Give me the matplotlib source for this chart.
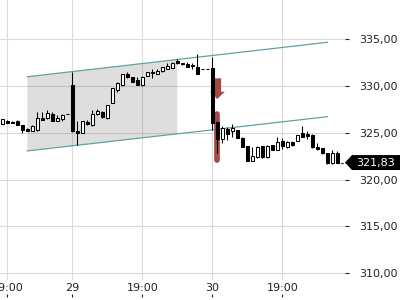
import matplotlib
matplotlib.use("Agg")
import matplotlib.pyplot as plt
from matplotlib.patches import Polygon
from matplotlib.transforms import blended_transform_factory
import numpy as np

opens = [326.0, 326.3, 326.2, 326.3, 325.8, 325.45, 325.2, 325.3, 326.6, 326.55,
         327.0, 326.3, 326.45, 327.05, 330.1, 325.15, 325.0, 326.2, 325.8, 327.0,
         327.25, 326.55, 328.2, 329.6, 330.1, 331.25, 330.95, 330.6, 330.1, 331.1,
         331.5, 331.3, 331.6, 331.85, 331.95, 332.7, 332.45, 332.35, 332.25, 332.0,
         331.8, 331.8, 331.9, 326.2, 324.4, 325.4, 325.15, 325.3, 324.5, 323.6,
         322.0, 322.4, 323.55, 322.4, 323.7, 323.2, 324.15, 323.45, 324.05, 324.15,
         324.95, 324.9, 324.8, 323.45, 323.35, 322.8, 321.75, 322.9]
highs = [326.5, 326.35, 326.25, 326.35, 325.85, 325.5, 325.8, 327.2, 327.2, 327.4,
         327.2, 326.9, 327.0, 327.05, 331.55, 326.3, 326.3, 326.4, 327.4, 327.55,
         327.3, 328.0, 329.85, 330.4, 331.3, 331.55, 331.0, 330.95, 331.05, 331.55,
         331.8, 331.8, 332.05, 332.45, 332.55, 332.85, 332.5, 332.6, 332.45, 333.45,
         331.8, 331.8, 333.15, 326.3, 325.75, 325.6, 326.0, 325.35, 324.55, 323.65,
         323.45, 323.55, 323.6, 323.7, 323.75, 324.6, 324.45, 324.1, 324.1, 324.8,
         325.75, 325.15, 324.85, 323.9, 323.4, 322.85, 323.15, 323.1]
lows = [326.0, 326.1, 326.05, 325.8, 325.0, 325.2, 325.2, 325.25, 326.35, 326.5,
        326.3, 326.3, 326.3, 327.05, 325.1, 323.7, 324.95, 325.85, 325.75, 326.95,
        326.6, 326.5, 328.15, 329.4, 330.05, 330.9, 330.4, 330.1, 330.05, 331.05,
        330.85, 331.25, 331.55, 331.8, 331.9, 332.4, 332.3, 332.0, 331.8, 331.3,
        331.8, 331.8, 325.3, 322.9, 323.9, 324.2, 324.55, 324.45, 323.45, 321.95,
        321.95, 322.35, 322.35, 322.35, 323.15, 323.15, 323.3, 323.4, 323.65, 324.1,
        324.55, 324.3, 323.4, 323.2, 322.75, 321.7, 321.7, 321.8]
closes = [326.45, 326.1, 326.1, 325.8, 325.3, 325.2, 325.75, 326.55, 326.4, 327.15,
          326.3, 326.6, 326.95, 327.05, 325.15, 325.0, 326.27, 326.0, 327.0, 327.35,
          326.65, 327.95, 329.8, 330.35, 331.25, 330.95, 330.45, 330.15, 331.0, 331.5,
          331.35, 331.6, 332.0, 332.2, 332.5, 332.45, 332.35, 332.05, 332.15, 331.3,
          331.8, 331.8, 326.1, 324.4, 325.5, 324.9, 325.5, 324.5, 323.5, 322.0,
          322.5, 323.45, 322.4, 323.6, 323.2, 324.05, 323.55, 324.05, 323.7, 324.75,
          324.6, 324.65, 323.45, 323.25, 322.8, 321.75, 322.9, 321.83]

tick_pos = [1, 14, 28, 42, 56]
tick_labels = ["19:00", "29", "19:00", "30", "19:00"]
y_ticks = [310, 315, 320, 325, 330, 335]

channel_x = [5, 65]
channel_upper = [331.0, 334.68]
channel_lower = [323.07, 326.73]
shade_x = [5, 35]

signal_idx = 43
arrow_top, arrow_neck, arrow_tip = 330.83, 329.4, 328.62
bar_top, bar_bottom = 327.34, 321.75
last_price = closes[-1]

fig = plt.figure(figsize=(4, 3), dpi=100)
W, H = 400.0, 300.0
ax = fig.add_axes([0, 20 / H, 345 / W, 280 / H])
ax.set_xlim(-0.46, 68.54)
ax.set_ylim(309.28, 339.2)

grid_c = "#dadada"
for v in y_ticks:
    ax.axhline(v, color=grid_c, lw=0.8, zorder=0)
for p in tick_pos:
    ax.axvline(p, color=grid_c, lw=0.8, zorder=0)

# channel shading
def interp(xs, ys, x):
    return np.interp(x, xs, ys)

sx = np.array(shade_x, dtype=float)
up = interp(channel_x, channel_upper, sx)
lo = interp(channel_x, channel_lower, sx)
ax.fill([sx[0], sx[1], sx[1], sx[0]], [up[0], up[1], lo[1], lo[0]],
        color="#808080", alpha=0.26, lw=0, zorder=1)
teal = "#5fa3a3"
ax.plot(channel_x, channel_upper, color=teal, lw=0.9, zorder=2)
ax.plot(channel_x, channel_lower, color=teal, lw=0.9, zorder=2)

# signal markers
red = "#9b3a35"
sw, hw = 0.77, 1.5
arrow = Polygon([[signal_idx - sw, arrow_top], [signal_idx + sw, arrow_top],
                 [signal_idx + sw, arrow_neck], [signal_idx + hw, arrow_neck],
                 [signal_idx, arrow_tip], [signal_idx - hw, arrow_neck],
                 [signal_idx - sw, arrow_neck]], closed=True,
                facecolor=red, edgecolor="none", alpha=0.92, zorder=2.5)
ax.add_patch(arrow)
ax.plot([signal_idx, signal_idx], [bar_top - 0.3, bar_bottom + 0.3], color=red,
        lw=4.1, solid_capstyle="round", alpha=0.92, zorder=2.5)

# candles
x = np.arange(len(opens))
o = np.array(opens); c = np.array(closes)
ax.vlines(x, lows, highs, color="black", lw=0.75, zorder=3)
face = ["white" if cc > oo else "black" for oo, cc in zip(o, c)]
ax.bar(x, c - o, bottom=o, width=0.56, color=face, edgecolor="black",
       linewidth=0.75, zorder=4)

# last price dashed line
ax.plot([len(opens) - 1, 68.54], [last_price, last_price], color="black",
        lw=0.8, ls=(0, (2, 1.5)), zorder=3, clip_on=False)

for s in ax.spines.values():
    s.set_visible(False)
ax.yaxis.tick_right()
ax.set_yticks(y_ticks)
ax.set_yticklabels([f"{v:.2f}".replace(".", ",") for v in y_ticks])
ax.tick_params(axis="y", direction="out", length=3, width=0.8, pad=7,
               labelsize=8, colors="#222222", labelcolor="#222222")
ax.set_xticks(tick_pos)
ax.set_xticklabels(tick_labels)
ax.tick_params(axis="x", length=0, pad=2.5, labelsize=8, labelcolor="#222222")

# bottom tick marks
ax2 = fig.add_axes([0, 3 / H, 345 / W, 17 / H], sharex=ax)
for s in ax2.spines.values():
    s.set_visible(False)
ax2.set_yticks([])
ax2.patch.set_visible(False)
ax2.tick_params(axis="x", direction="in", length=2.5, width=0.8,
                labelbottom=False, colors="#222222")

# price tag
tr = blended_transform_factory(fig.transFigure, ax.transData)
h = 0.8
tag = Polygon([[345 / W, last_price], [352 / W, last_price + h], [1.0, last_price + h],
               [1.0, last_price - h], [352 / W, last_price - h]], closed=True,
              transform=tr, facecolor="black", edgecolor="none", clip_on=False)
fig.patches.append(tag)
fig.text(356 / W, last_price, f"{last_price:.2f}".replace(".", ","), transform=tr,
         color="white", fontsize=8, va="center", ha="left")

fig.savefig("out.png", dpi=100)
